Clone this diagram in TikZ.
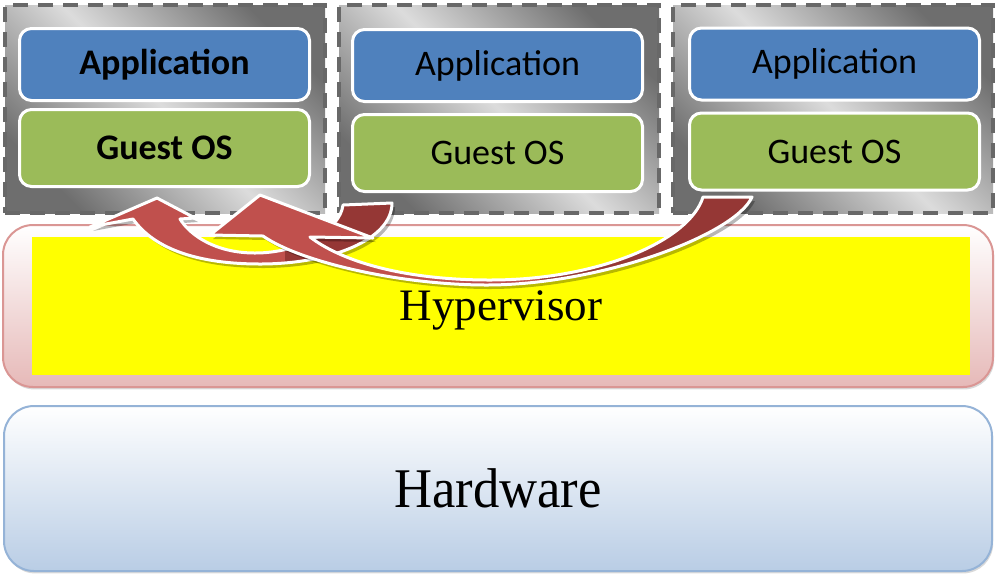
\documentclass[tikz,border=0pt]{standalone}
\usepackage{fontspec}
\setmainfont{Liberation Serif}
\newfontfamily\carlito{Carlito}
\newfontfamily\narrowserif[FakeStretch=0.94]{Liberation Serif}
\usepackage{xcolor}
\usepackage{tikz}
\usetikzlibrary{positioning,shadows}

\definecolor{appblue}{HTML}{4F81BD}
\definecolor{osgreen}{HTML}{9BBB59}
\definecolor{vmdash}{HTML}{686868}
\definecolor{vmdark}{HTML}{6E6E6E}
\definecolor{vmlight}{HTML}{DCDCDC}
\definecolor{hypline}{HTML}{DA9694}
\definecolor{hypfill}{HTML}{E6B9B8}
\definecolor{hypyellow}{RGB}{255,255,0}
\definecolor{hwline}{HTML}{95B3D7}
\definecolor{hwfill}{HTML}{B9CDE5}
\definecolor{migred}{HTML}{C0504D}
\definecolor{migdark}{HTML}{953735}

% migration arrows (coordinates in pixels)
\newcommand{\migrateA}{(157,198) -- (90,227) -- (133,219)
  .. controls (155,250) and (200,264) .. (260,264)
  .. controls (330,264) and (392,240) .. (392,203)
  -- (343,205)
  .. controls (340,230) and (300,253) .. (255,253)
  .. controls (215,253) and (190,235) .. (180,219)
  -- (195,218) -- cycle}
\newcommand{\migrateB}{(260,195) -- (210,235) -- (263,236)
  .. controls (300,262) and (400,285) .. (487,285)
  .. controls (600,285) and (735,235) .. (752,197)
  -- (703,197)
  .. controls (690,240) and (600,280) .. (490,280)
  .. controls (400,280) and (340,260) .. (310,237)
  -- (373,238) -- cycle}

\begin{document}
\begin{tikzpicture}[
  x=0.5pt, y=-0.5pt,
  node distance=4pt,
  vmbox/.style={rectangle, draw=vmdash, dash pattern=on 7.5pt off 5pt, line width=2pt,
    top color=vmdark, bottom color=vmdark, middle color=vmlight, shading angle=-45,
    minimum width=160pt, minimum height=104pt},
  appbox/.style={rectangle, rounded corners=6pt, draw=white, line width=1.5pt, fill=appblue,
    minimum width=145pt, minimum height=36pt, font=\carlito\fontsize{18}{20}\selectfont},
  osbox/.style={appbox, fill=osgreen, minimum height=38.5pt},
  hypframe/.style={rectangle, rounded corners=15pt, draw=hypline, line width=1pt,
    top color=white, bottom color=hypfill, minimum width=495pt, minimum height=81pt,
    drop shadow={shadow xshift=0.6pt, shadow yshift=-1.2pt, opacity=0.3}},
  hypcore/.style={rectangle, fill=hypyellow, minimum width=469pt, minimum height=69pt,
    text depth=0pt, font=\fontsize{22.5}{26}\selectfont},
  hwbox/.style={rectangle, rounded corners=15pt, draw=hwline, line width=1pt,
    top color=white, bottom color=hwfill, minimum width=494pt, minimum height=82.5pt,
    font=\narrowserif\fontsize{28}{32}\selectfont,
    drop shadow={shadow xshift=0.6pt, shadow yshift=-1.2pt, opacity=0.3}},
  shade/.style={fill=black, opacity=0.28, shift={(3,4)}},
  rim/.style={draw=white, line width=1.5pt, line join=round},
]
  \useasboundingbox (0,0) rectangle (996,575);

  % virtual machines
  \node[vmbox] (vm1) at (165,109) {};
  \node[vmbox] (vm2) at (499,109) {};
  \node[vmbox] (vm3) at (833,109) {};

  \node[appbox, font=\carlito\bfseries\fontsize{18}{20}\selectfont] (app1) at (164.5,64.5) {Application};
  \node[osbox, font=\carlito\bfseries\fontsize{18}{20}\selectfont, below=3pt of app1] (os1) {Guest OS};
  \node[appbox] (app2) at (497.5,65.5) {Application};
  \node[osbox, below=5pt of app2] (os2) {Guest OS};
  \node[appbox] (app3) at (834.5,64) {Application};
  \node[osbox, below=5pt of app3] (os3) {Guest OS};

  % hypervisor and hardware layers
  \node[hypframe] (hypframe) at (498,306) {};
  \node[hypcore] (hyp) at (501,306) {Hypervisor};
  \node[hwbox] (hw) at (498,488.5) {Hardware};

  % VM2 -> VM1
  \fill[shade] \migrateA;
  \fill[migred] \migrateA;
  \begin{scope}
    \clip (285,150) rectangle (420,300);
    \fill[migdark] \migrateA;
  \end{scope}
  \path[rim] \migrateA;

  % VM3 -> VM1
  \fill[shade] \migrateB;
  \fill[migred] \migrateB;
  \begin{scope}
    \clip (540,150) rectangle (800,300);
    \fill[migdark] \migrateB;
  \end{scope}
  \path[rim] \migrateB;
\end{tikzpicture}
\end{document}
